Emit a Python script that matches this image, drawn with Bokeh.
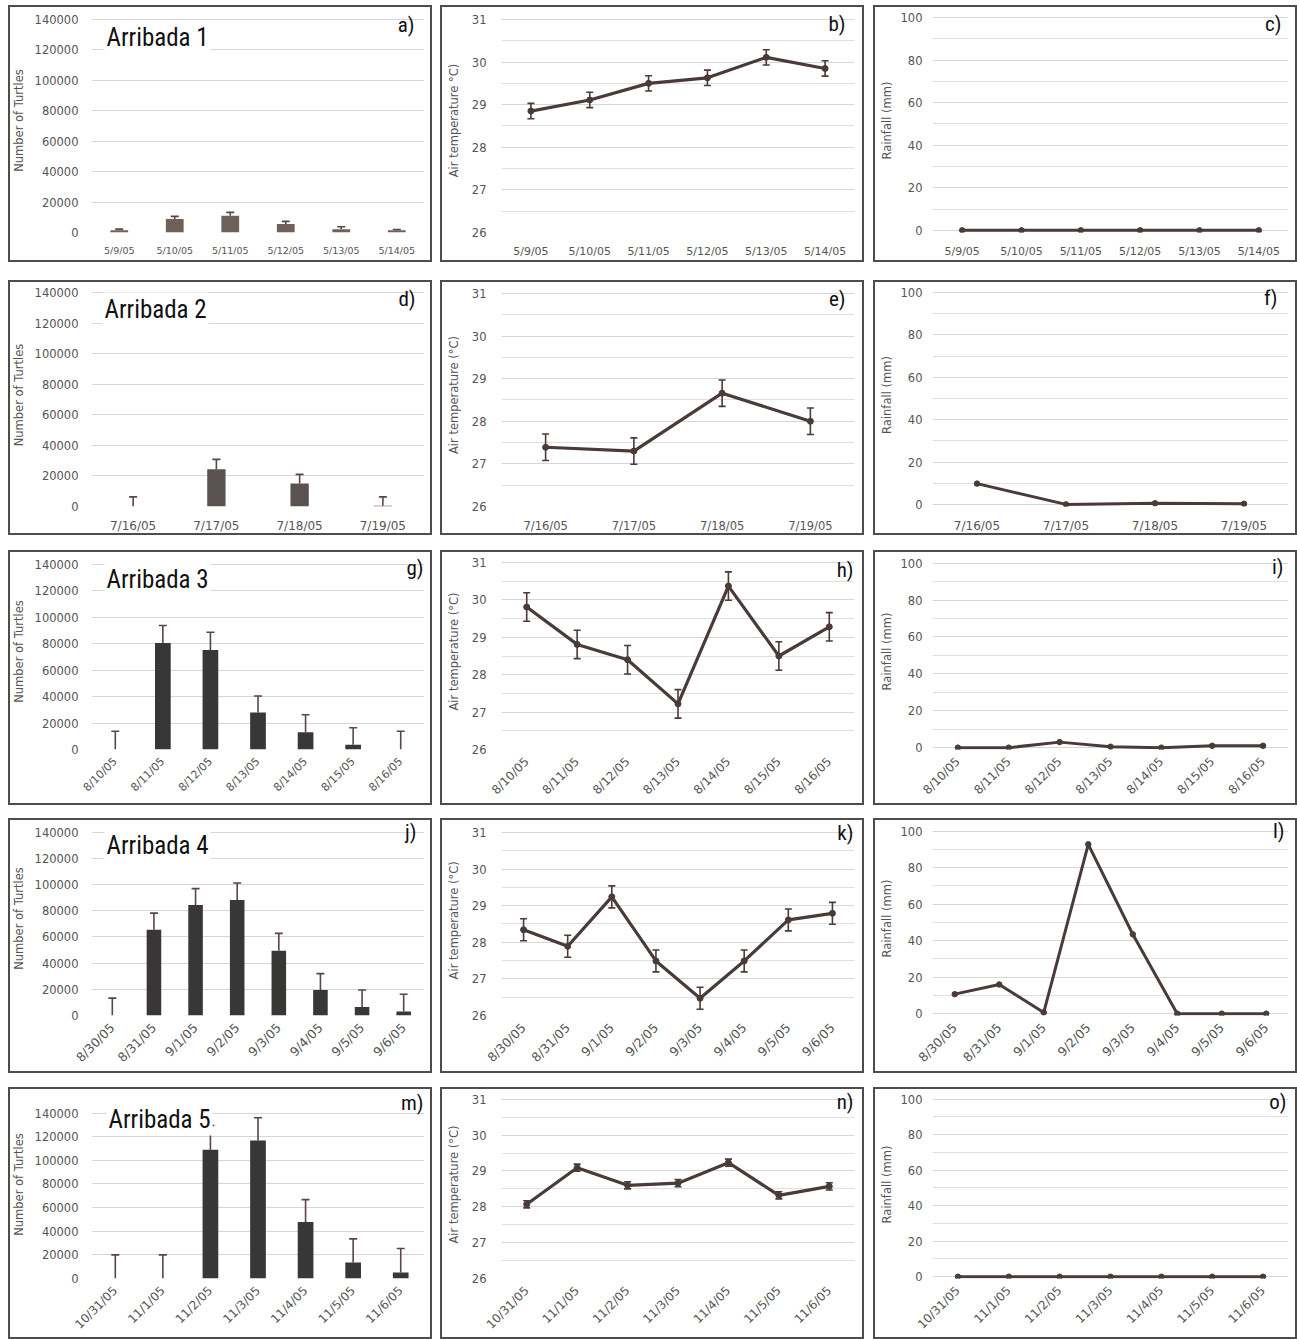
import math
from bokeh.plotting import figure
from bokeh.layouts import column, row
from bokeh.models import (ColumnDataSource, FactorRange, Range1d, FixedTicker,
                          Whisker, TeeHead, Label, PrintfTickFormatter, Spacer)
from bokeh.embed import file_html
from bokeh.resources import INLINE

# ---------------- data ----------------
dates1 = ["5/9/05", "5/10/05", "5/11/05", "5/12/05", "5/13/05", "5/14/05"]
turtles1 = [1500, 8800, 11000, 5600, 2100, 1400]
turtles1_err = [700, 1800, 2200, 1700, 1700, 600]
temp1 = [28.85, 29.11, 29.50, 29.63, 30.11, 29.85]
temp1_sd = [0.18, 0.18, 0.18, 0.18, 0.18, 0.18]
rain1 = [0, 0, 0, 0, 0, 0]

dates2 = ["7/16/05", "7/17/05", "7/18/05", "7/19/05"]
turtles2 = [0, 24300, 15000, 500]
turtles2_err = [6300, 6500, 6000, 5800]
temp2 = [27.39, 27.30, 28.66, 28.00]
temp2_sd = [0.31, 0.31, 0.31, 0.31]
rain2 = [9.8, 0, 0.5, 0.3]

dates3 = ["8/10/05", "8/11/05", "8/12/05", "8/13/05", "8/14/05", "8/15/05", "8/16/05"]
turtles3 = [0, 80500, 75200, 28000, 13000, 3500, 0]
turtles3_err = [13750, 13250, 13500, 12500, 13250, 13000, 13750]
temp3 = [29.81, 28.81, 28.40, 27.22, 30.37, 28.50, 29.28]
temp3_sd = [0.38, 0.38, 0.38, 0.38, 0.38, 0.38, 0.38]
rain3 = [0, 0, 3, 0.5, 0, 1, 1]

dates4 = ["8/30/05", "8/31/05", "9/1/05", "9/2/05", "9/3/05", "9/4/05", "9/5/05", "9/6/05"]
turtles4 = [0, 65500, 84500, 88250, 49500, 19500, 6500, 3000]
turtles4_err = [13250, 12750, 12500, 13000, 13250, 12500, 13000, 13250]
temp4 = [28.34, 27.89, 29.24, 27.49, 26.47, 27.49, 28.61, 28.79]
temp4_sd = [0.3, 0.3, 0.3, 0.3, 0.3, 0.3, 0.3, 0.3]
rain4 = [10.7, 16, 0.7, 92.8, 43.5, 0, 0, 0]

dates5 = ["10/31/05", "11/1/05", "11/2/05", "11/3/05", "11/4/05", "11/5/05", "11/6/05"]
turtles5 = [0, 0, 109000, 116750, 47800, 13500, 5100]
turtles5_err = [20000, 20000, 20500, 19250, 18950, 20000, 20300]
temp5 = [28.07, 29.09, 28.60, 28.66, 29.23, 28.32, 28.57]
temp5_sd = [0.1, 0.1, 0.1, 0.1, 0.1, 0.1, 0.1]
rain5 = [0, 0, 0, 0, 0, 0, 0]

arribada_titles = ["Arribada 1", "Arribada 2", "Arribada 3", "Arribada 4", "Arribada 5"]
panel_letters = ["a)", "b)", "c)", "d)", "e)", "f)", "g)", "h)", "i)",
                 "j)", "k)", "l)", "m)", "n)", "o)"]
temp_labels = ["Air temperature °C)", "Air temperature (°C)", "Air temperature (°C)",
               "Air temperature  (°C)", "Air temperature (°C)"]
turtle_label = "Number of Turtles"
rain_label = "Rainfall (mm)"
bar_colors = ["#6e605a", "#5a5250", "#393636", "#393636", "#393636"]
bar_widths = [0.32, 0.22, 0.33, 0.35, 0.33]

turtle_ticks = [0, 20000, 40000, 60000, 80000, 100000, 120000, 140000]
temp_ticks = [26, 27, 28, 29, 30, 31]
temp_minor = [26.5, 27.5, 28.5, 29.5, 30.5]
rain_ticks = [0, 20, 40, 60, 80, 100]
rain_minor = [10, 30, 50, 70, 90]

rows_data = [
    (dates1, turtles1, turtles1_err, temp1, temp1_sd, rain1),
    (dates2, turtles2, turtles2_err, temp2, temp2_sd, rain2),
    (dates3, turtles3, turtles3_err, temp3, temp3_sd, rain3),
    (dates4, turtles4, turtles4_err, temp4, temp4_sd, rain4),
    (dates5, turtles5, turtles5_err, temp5, temp5_sd, rain5),
]

# ---------------- layout / style ----------------
PW = 424
ROW_H = [257, 255, 255, 255, 252]
ROW_GAP = [5, 18, 15, 13, 14]
COL_GAP = [8, 8, 9]
# pixel offset (from panel top) of the top tick, and bottom border below the bottom tick
TB = [
    [(14, 30), (14, 29), (10, 29)],
    [(12, 28), (13, 28), (10, 27)],
    [(14, 54), (12, 56), (11, 53)],
    [(14, 55), (14, 56), (11, 54)],
    [(26, 57), (12, 56), (10, 56)],
]
FRAME_TOP = 3
LR = [(74, 8), (61, 10), (59, 9)]
LETTER_RIGHT = [[397, 405, 408], [398, 405, 404], [406, 413, 410],
                [399, 413, 411], [406, 413, 413]]
LETTER_TOP = [7, 7, 7, 4, 7]
TITLE_LEFT = [87, 85, 87, 87, 89]
TITLE_TOP = [15, 13, 14, 13, 19]
XFONT = [[9.5, 11, 11], [12, 11.5, 12], [11, 12, 12], [12.5, 12.5, 12.5], [12, 12, 12]]
YSTAND = [(7, 6), (9, 8), (4, 4)]

NARROW = "'Liberation Sans Narrow', 'Roboto Condensed', 'Liberation Sans', sans-serif"
SANS = "DejaVu Sans"
TXT = "#555555"
LINE = "#4a3a38"
GRID = "#d6d6d6"


def base_fig(factors, lo, hi, r, c, ylabel, ticks, minor):
    rotate = r >= 2
    tick_top, bottom = TB[r][c]
    left, right = LR[c]
    h = ROW_H[r]
    # the frame reaches up to FRAME_TOP so that the panel labels are not clipped;
    # the range is stretched so that `hi` still sits at tick_top
    span_px = h - tick_top - bottom
    frame_px = h - FRAME_TOP - bottom
    yr = Range1d(lo, lo + (hi - lo) * frame_px / span_px)
    p = figure(x_range=FactorRange(*factors, range_padding=0.0), y_range=yr,
               width=PW, height=h,
               output_backend="svg", toolbar_location=None,
               min_border_left=left, min_border_right=right,
               min_border_top=FRAME_TOP, min_border_bottom=bottom)
    p.outline_line_color = None
    p.background_fill_color = "white"
    p.border_fill_color = None
    p.styles = {"box-shadow": "inset 0 0 0 2px #4d4d4d", "background-color": "white"}
    p.xgrid.grid_line_color = None
    p.ygrid.grid_line_color = GRID
    p.ygrid.grid_line_width = 1.2
    if minor:
        p.ygrid.minor_grid_line_color = "#e0e0e0"
        p.ygrid.minor_grid_line_width = 1.2
    p.yaxis.ticker = FixedTicker(ticks=ticks, minor_ticks=minor)
    for ax in (p.xaxis[0], p.yaxis[0]):
        ax.axis_line_color = None
        ax.major_tick_line_color = None
        ax.minor_tick_line_color = None
        ax.major_label_text_color = TXT
        ax.major_label_text_font = SANS
    p.yaxis.major_label_text_font_size = "11.5px"
    p.yaxis.major_label_standoff = YSTAND[c][0]
    p.yaxis.axis_label = ylabel
    p.yaxis.axis_label_text_font = SANS
    p.yaxis.axis_label_text_font_size = "11.5px"
    p.yaxis.axis_label_text_font_style = "normal"
    p.yaxis.axis_label_text_color = TXT
    p.yaxis.axis_label_standoff = YSTAND[c][1]
    p.xaxis.major_label_text_font_size = "%spx" % XFONT[r][c]
    p.xaxis.major_label_standoff = 6 if not rotate else 4
    if rotate:
        p.xaxis.major_label_orientation = math.pi / 4
    fh = frame_px
    p.add_layout(Label(x=LETTER_RIGHT[r][c] - left, y=fh - (LETTER_TOP[r] - FRAME_TOP),
                       x_units="screen", y_units="screen",
                       text=panel_letters[r * 3 + c], text_align="right",
                       text_baseline="top", text_font=NARROW,
                       text_font_size="21px", text_color="#111111"))
    return p, fh


rows_out = []
for r, (dates, turt, terr, temp, tsd, rain) in enumerate(rows_data):
    # --- turtles bar chart ---
    p1, fh = base_fig(dates, 0, 140000, r, 0, turtle_label, turtle_ticks, [])
    p1.yaxis.formatter = PrintfTickFormatter(format="%d")
    src = ColumnDataSource(dict(d=dates, v=turt, hi=[a + b for a, b in zip(turt, terr)]))
    p1.vbar(x="d", top="v", width=bar_widths[r], source=src,
            fill_color=bar_colors[r], line_color=None)
    p1.add_layout(Whisker(base="d", lower="v", upper="hi", source=src,
                          lower_head=None,
                          upper_head=TeeHead(size=8, line_color="#5a4644", line_width=1.6),
                          line_color="#5a4644", line_width=1.6))
    p1.add_layout(Label(x=TITLE_LEFT[r] - LR[0][0], y=fh - (TITLE_TOP[r] - FRAME_TOP),
                        x_units="screen", y_units="screen",
                        text=arribada_titles[r], text_align="left", text_baseline="top",
                        text_font=NARROW, text_font_size="25px", text_color="#111111",
                        background_fill_color="white", padding=2))

    # --- temperature ---
    p2, _ = base_fig(dates, 26, 31, r, 1, temp_labels[r], temp_ticks, temp_minor)
    src2 = ColumnDataSource(dict(d=dates, t=temp,
                                 lo=[a - b for a, b in zip(temp, tsd)],
                                 hi=[a + b for a, b in zip(temp, tsd)]))
    p2.add_layout(Whisker(base="d", lower="lo", upper="hi", source=src2,
                          lower_head=TeeHead(size=7, line_color=LINE, line_width=1.6),
                          upper_head=TeeHead(size=7, line_color=LINE, line_width=1.6),
                          line_color=LINE, line_width=1.6))
    p2.line(x="d", y="t", source=src2, line_color=LINE, line_width=3.2)
    p2.scatter(x="d", y="t", source=src2, size=6, marker="circle",
               fill_color=LINE, line_color=LINE)

    # --- rainfall ---
    p3, _ = base_fig(dates, -1, 101, r, 2, rain_label, rain_ticks, rain_minor)
    src3 = ColumnDataSource(dict(d=dates, v=rain))
    p3.line(x="d", y="v", source=src3, line_color=LINE, line_width=3)
    p3.scatter(x="d", y="v", source=src3, size=5.5, marker="circle",
               fill_color=LINE, line_color=LINE)

    h = ROW_H[r]
    rows_out.append(Spacer(width=1, height=ROW_GAP[r]))
    rows_out.append(row(Spacer(width=COL_GAP[0], height=h), p1,
                        Spacer(width=COL_GAP[1], height=h), p2,
                        Spacer(width=COL_GAP[2], height=h), p3))

layout = column(*rows_out)

open("out.html", "w").write(file_html(layout, INLINE))
